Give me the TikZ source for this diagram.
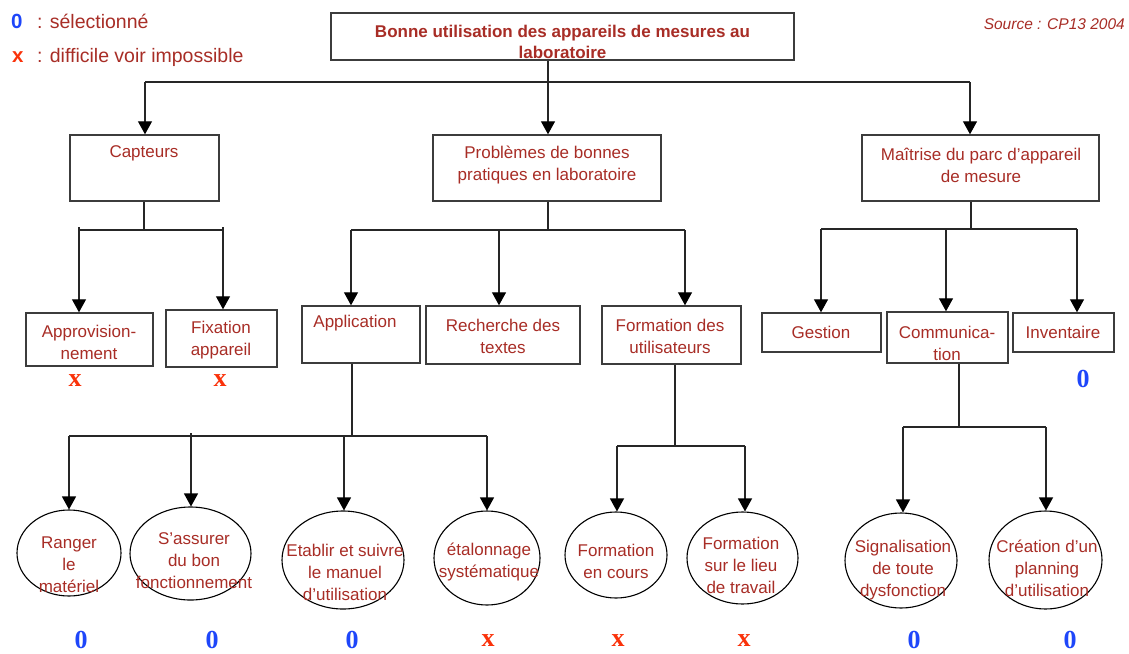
\documentclass[tikz,border=0pt]{standalone}
\usepackage{fontspec}
\setmainfont{Liberation Sans}
\newfontfamily\markfont{Liberation Serif}
\usetikzlibrary{arrows.meta,shapes.geometric}
\definecolor{txtred}{RGB}{168,45,38}
\definecolor{markblue}{RGB}{30,70,250}
\definecolor{markred}{RGB}{250,50,10}
\definecolor{edge}{RGB}{60,60,60}

\begin{document}
\begin{tikzpicture}[x=1pt,y=-1pt,
  lbl/.style={text=txtred,font=\fontsize{17}{22}\selectfont,align=center,inner sep=0pt},
  titlelbl/.style={lbl,font=\bfseries\fontsize{17}{21}\selectfont},
  box/.style={draw=edge,line width=1.4pt,inner sep=0pt},
  oval/.style={draw=black,line width=1.1pt,ellipse,inner sep=0pt},
  link/.style={draw=black!85,line width=1.2pt},
  arr/.style={link,-{Triangle[width=14pt,length=13pt,color=black]}},
  sel/.style={text=markblue,font=\markfont\bfseries\fontsize{26}{26}\selectfont,inner sep=0pt},
  hard/.style={text=markred,font=\markfont\bfseries\fontsize{26}{26}\selectfont,inner sep=0pt},
]
\useasboundingbox[fill=white] (0,0) rectangle (1129,653);

% legend and source
\node[anchor=base west,inner sep=0pt,text=markblue,font=\bfseries\fontsize{20.5}{21}\selectfont] (legsel) at (11,28.5) {0};
\node[anchor=base west,inner sep=0pt,text=txtred,font=\fontsize{19.5}{20}\selectfont] (legseltxt) at (37,28) {: sélectionné};
\node[anchor=base west,inner sep=0pt,text=markred,font=\bfseries\fontsize{20.5}{21}\selectfont] (leghard) at (12,62.5) {x};
\node[anchor=base west,inner sep=0pt,text=txtred,font=\fontsize{19.5}{20}\selectfont] (leghardtxt) at (37,62.5) {: difficile voir impossible};
\node[anchor=base east,inner sep=0pt,text=txtred,font=\itshape\fontsize{15.5}{16}\selectfont] (source) at (1125,29.5) {Source : CP13 2004};

% root
\node[box,minimum width=463pt,minimum height=47pt] (top) at (562.5,36.5) {};
\node[titlelbl] (toptxt) at (562.5,41.5) {Bonne utilisation des appareils de mesures au\\laboratoire};

% first level boxes
\node[box,minimum width=149pt,minimum height=66pt] (cap) at (144.5,168) {};
\node[lbl] (captxt) at (144,153) {Capteurs};
\node[box,minimum width=228pt,minimum height=66pt] (prob) at (547,168) {};
\node[lbl] (probtxt) at (547,165) {Problèmes de bonnes\\pratiques en laboratoire};
\node[box,minimum width=237pt,minimum height=66pt] (mait) at (980.5,168) {};
\node[lbl] (maittxt) at (981,165) {Maîtrise du parc d’appareil\\de mesure};

% second level boxes
\node[box,minimum width=127pt,minimum height=53pt] (appro) at (89.5,339.5) {};
\node[lbl] (approtxt) at (89,342.5) {Approvision-\\nement};
\node[box,minimum width=111pt,minimum height=57pt] (fix) at (221.5,338.5) {};
\node[lbl] (fixtxt) at (221,340.5) {Fixation\\appareil};
\node[box,minimum width=118pt,minimum height=57pt] (appl) at (361,334.5) {};
\node[lbl] (appltxt) at (355,323) {Application};
\node[box,minimum width=154pt,minimum height=58pt] (rech) at (503,335) {};
\node[lbl] (rechtxt) at (503,336.5) {Recherche des\\textes};
\node[box,minimum width=139pt,minimum height=58pt] (form) at (671.5,335) {};
\node[lbl] (formtxt) at (670,336.5) {Formation des\\utilisateurs};
\node[box,minimum width=119pt,minimum height=39pt] (gest) at (821.5,332.5) {};
\node[lbl] (gesttxt) at (821,332) {Gestion};
\node[box,minimum width=121pt,minimum height=51pt] (comm) at (947.5,337.5) {};
\node[lbl] (commtxt) at (947,343.5) {Communica-\\tion};
\node[box,minimum width=101pt,minimum height=39pt] (inv) at (1063.5,332.5) {};
\node[lbl] (invtxt) at (1063,332) {Inventaire};

% third level ellipses
\node[oval,minimum width=104pt,minimum height=86pt] (ranger) at (69,553) {};
\node[lbl] (rangertxt) at (69,564.5) {Ranger\\le\\matériel};
\node[oval,minimum width=121pt,minimum height=93pt] (assur) at (190.5,553.5) {};
\node[lbl] (assurtxt) at (194,560.5) {S’assurer\\du bon\\fonctionnement};
\node[oval,minimum width=122pt,minimum height=98pt] (etab) at (343,560) {};
\node[lbl] (etabtxt) at (345,572.5) {Etablir et suivre\\le manuel\\d’utilisation};
\node[oval,minimum width=106pt,minimum height=94pt] (etal) at (487,558) {};
\node[lbl] (etaltxt) at (489,561.5) {étalonnage\\systématique};
\node[oval,minimum width=102pt,minimum height=86pt] (fcours) at (616,555) {};
\node[lbl] (fcourstxt) at (616,561.5) {Formation\\en cours};
\node[oval,minimum width=111pt,minimum height=92pt] (flieu) at (742.5,558) {};
\node[lbl] (flieutxt) at (741,565.5) {Formation\\sur le lieu\\de travail};
\node[oval,minimum width=112pt,minimum height=95pt] (signal) at (901,560.5) {};
\node[lbl] (signaltxt) at (903,570.5) {Signalisation\\de toute\\dysfonction};
\node[oval,minimum width=113pt,minimum height=98pt] (creat) at (1045.5,560) {};
\node[lbl] (creattxt) at (1047,568) {Création d’un\\planning\\d’utilisation};

% root to first level
\coordinate (r0) at (548,82);
\coordinate (r1) at (145,82);
\coordinate (r2) at (548,82);
\coordinate (r3) at (970,82);
\draw[link] (r0 |- top.south) -- (r0);
\draw[link] (r1) -- (r3);
\draw[arr] (r1) -- (r1 |- cap.north);
\draw[arr] (r2) -- (r2 |- prob.north);
\draw[arr] (r3) -- (r3 |- mait.north);

% Capteurs branch
\coordinate (c0) at (144,230);
\coordinate (c1) at (79,227);
\coordinate (c2) at (223,227);
\draw[link] (c0 |- cap.south) -- (c0);
\draw[link] (c0 -| c1) -- (c0 -| c2);
\draw[arr] (c1) -- (c1 |- appro.north);
\draw[arr] (c2) -- (c2 |- fix.north);

% Problemes branch
\coordinate (p0) at (548,230);
\coordinate (p1) at (351,230);
\coordinate (p2) at (499,230);
\coordinate (p3) at (685,230);
\draw[link] (p0 |- prob.south) -- (p0);
\draw[link] (p1) -- (p3);
\draw[arr] (p1) -- (p1 |- appl.north);
\draw[arr] (p2) -- (p2 |- rech.north);
\draw[arr] (p3) -- (p3 |- form.north);

% Maitrise branch
\coordinate (m0) at (971,229);
\coordinate (m1) at (821,229);
\coordinate (m2) at (946,229);
\coordinate (m3) at (1077,229);
\draw[link] (m0 |- mait.south) -- (m0);
\draw[link] (m1) -- (m3);
\draw[arr] (m1) -- (m1 |- gest.north);
\draw[arr] (m2) -- (m2 |- comm.north);
\draw[arr] (m3) -- (m3 |- inv.north);

% Application branch
\coordinate (a0) at (352,436);
\coordinate (a1) at (69,436);
\coordinate (a2) at (191,433);
\coordinate (a3) at (344,436);
\coordinate (a4) at (487,436);
\draw[link] (a0 |- appl.south) -- (a0);
\draw[link] (a1) -- (a4);
\draw[arr] (a1) -- (a1 |- ranger.north);
\draw[arr] (a2) -- (a2 |- assur.north);
\draw[arr] (a3) -- (a3 |- etab.north);
\draw[arr] (a4) -- (a4 |- etal.north);

% Formation branch
\coordinate (f0) at (675,446);
\coordinate (f1) at (617,446);
\coordinate (f2) at (745,446);
\draw[link] (f0 |- form.south) -- (f0);
\draw[link] (f1) -- (f2);
\draw[arr] (f1) -- (f1 |- fcours.north);
\draw[arr] (f2) -- (f2 |- flieu.north);

% Communication branch
\coordinate (k0) at (959,427);
\coordinate (k1) at (903,427);
\coordinate (k2) at (1046,427);
\draw[link] (k0 |- comm.south) -- (k0);
\draw[link] (k1) -- (k2);
\draw[arr] (k1) -- (k1 |- signal.north);
\draw[arr] (k2) -- (k2 |- creat.north);

% assessment marks
\node[hard] (mappro) at (75,381) {x};
\node[hard] (mfix) at (220,381) {x};
\node[sel] (minv) at (1083,379) {0};
\node[sel] (mranger) at (81,640) {0};
\node[sel] (massur) at (212,640) {0};
\node[sel] (metab) at (352,640) {0};
\node[hard] (metal) at (488,641) {x};
\node[hard] (mfcours) at (618,641) {x};
\node[hard] (mflieu) at (744,641) {x};
\node[sel] (msignal) at (914,640) {0};
\node[sel] (mcreat) at (1070,640) {0};
\end{tikzpicture}
\end{document}
